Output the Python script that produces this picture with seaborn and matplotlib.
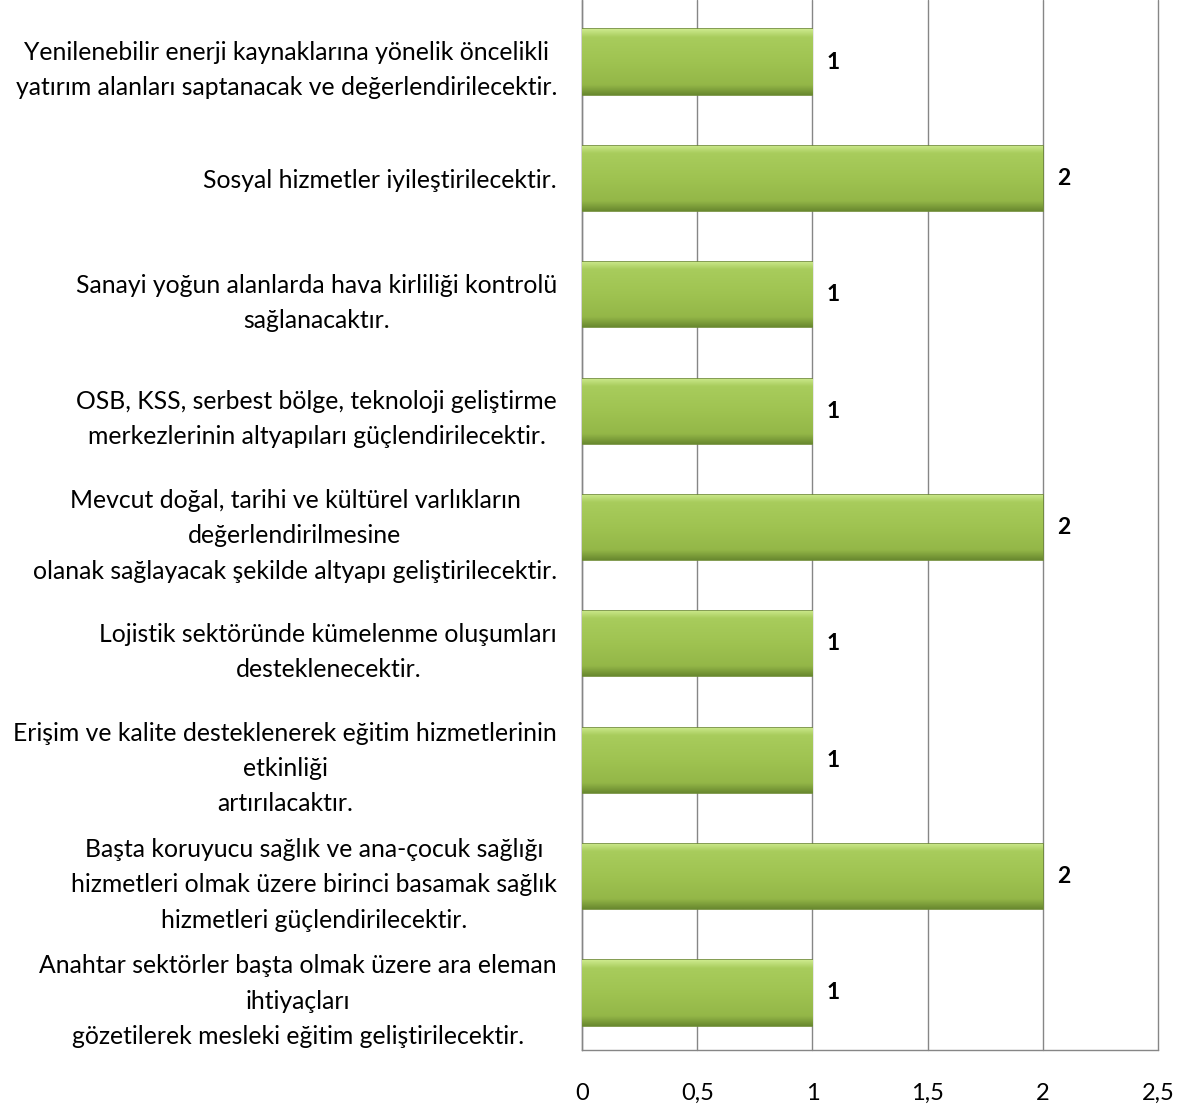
import numpy as np
import matplotlib
matplotlib.use("Agg")
import matplotlib.pyplot as plt
import seaborn as sns
from matplotlib.ticker import FuncFormatter, MultipleLocator
from matplotlib.colors import LinearSegmentedColormap

# -------------------- veri --------------------
labels = [
    "Yenilenebilir enerji kaynaklarına yönelik öncelikli\nyatırım alanları saptanacak ve değerlendirilecektir.",
    "Sosyal hizmetler iyileştirilecektir.",
    "Sanayi yoğun alanlarda hava kirliliği kontrolü\nsağlanacaktır.",
    "OSB, KSS, serbest bölge, teknoloji geliştirme\nmerkezlerinin altyapıları güçlendirilecektir.",
    "Mevcut doğal, tarihi ve kültürel varlıkların\ndeğerlendirilmesine\nolanak sağlayacak şekilde altyapı geliştirilecektir.",
    "Lojistik sektöründe kümelenme oluşumları\ndesteklenecektir.",
    "Erişim ve kalite desteklenerek eğitim hizmetlerinin\netkinliği\nartırılacaktır.",
    "Başta koruyucu sağlık ve ana-çocuk sağlığı\nhizmetleri olmak üzere birinci basamak sağlık\nhizmetleri güçlendirilecektir.",
    "Anahtar sektörler başta olmak üzere ara eleman\nihtiyaçları\ngözetilerek mesleki eğitim geliştirilecektir.",
]
values = [1, 2, 1, 1, 2, 1, 1, 2, 1]

sns.set_theme(style="white")
plt.rcParams['font.family'] = ['Lato', 'DejaVu Sans']
plt.rcParams['text.color'] = 'black'
plt.rcParams['xtick.color'] = 'black'
plt.rcParams['ytick.color'] = 'black'

fig = plt.figure(figsize=(11.82, 11.09), dpi=100)
ax = fig.add_axes([0.4924, 0.0532, 0.4873, 0.9468])

sns.barplot(x=values, y=labels, orient="h", color="#9bbb59", width=0.56,
            edgecolor="#6e8b35", linewidth=1.2, ax=ax, zorder=3)

# gradient dolgusu (üst açık, orta düz, alt koyu)
cmap = LinearSegmentedColormap.from_list(
    "yesil", [(0, "#cbe88a"), (0.12, "#a8cc5c"), (0.5, "#9fc351"),
              (0.85, "#94b748"), (1, "#6a8a30")])
grad = np.linspace(0, 1, 64).reshape(-1, 1)
for p in ax.patches:
    x0, y0 = p.get_x(), p.get_y()
    w, h = p.get_width(), p.get_height()
    im = ax.imshow(grad, cmap=cmap, aspect="auto", zorder=3.5,
                   extent=[x0, x0 + w, y0 + h, y0], origin="upper")
    im.set_clip_path(p)
    ax.text(x0 + w + 0.06, y0 + h / 2, f"{int(w)}", va="center", ha="left",
            fontsize=16.5, fontweight="bold", color="black")

ax.set_xlim(0, 2.5)
ax.set_ylim(len(labels) - 0.51, -0.533)
ax.xaxis.set_major_locator(MultipleLocator(0.5))
ax.xaxis.set_major_formatter(FuncFormatter(
    lambda v, _: f"{v:g}".replace(".", ",")))
ax.grid(axis="x", color="#868686", linewidth=1.0, zorder=0)
for gl in ax.get_xgridlines():
    gl.set_clip_on(False)
ax.set_axisbelow(True)
ax.set_xlabel("")
ax.set_ylabel("")

for s in ["top", "right"]:
    ax.spines[s].set_visible(False)
for s in ["left", "bottom"]:
    ax.spines[s].set_color("#868686")
    ax.spines[s].set_linewidth(1.0)

ax.tick_params(axis="x", length=0, pad=24, labelsize=17)
ax.tick_params(axis="y", length=0, pad=18, labelsize=17.8)
for t in ax.get_yticklabels():
    t.set_multialignment("center")
    t.set_linespacing(1.65)

fig.savefig("out.png", dpi=100)
